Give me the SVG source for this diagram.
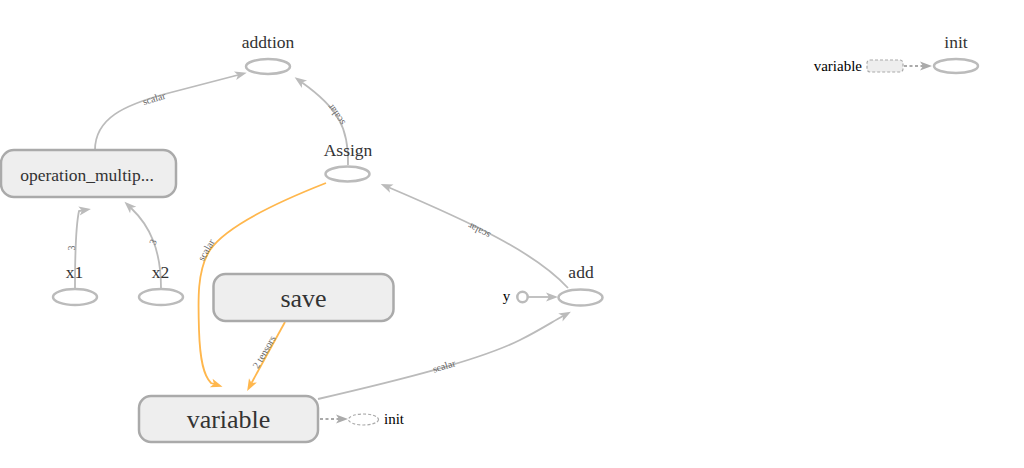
<svg xmlns="http://www.w3.org/2000/svg" width="1024" height="468" viewBox="0 0 1024 468">
<style>
text{font-family:"Liberation Serif","DejaVu Serif","Noto Serif","Times New Roman",serif}
.lbl{font-size:17.5px;fill:#333;text-anchor:middle}
.big{font-size:26px;fill:#333;text-anchor:middle}
.blk{font-size:15px;fill:#000}
.el{font-size:10px;fill:#666;text-anchor:middle;dominant-baseline:central}
.op{fill:#fff;stroke:#bbb;stroke-width:2.5}
.box{fill:#eee;stroke:#aaa;stroke-width:2.5}
.e{fill:none;stroke:#bbb;stroke-width:1.8}
.ref{fill:none;stroke:#ffb74d;stroke-width:1.8}
.ctl{fill:none;stroke:#aaa;stroke-width:1.8;stroke-dasharray:3,2.5}
</style>
<defs>
<marker id="ag" markerUnits="userSpaceOnUse" markerWidth="12" markerHeight="9" refX="3" refY="4.5" orient="auto" overflow="visible"><path d="M0,0 L12,4.5 L0,9 L3,4.5 z" fill="#bbb"/></marker>
<marker id="ao" markerUnits="userSpaceOnUse" markerWidth="12" markerHeight="9" refX="3" refY="4.5" orient="auto" overflow="visible"><path d="M0,0 L12,4.5 L0,9 L3,4.5 z" fill="#ffb74d"/></marker>
<marker id="ac" markerUnits="userSpaceOnUse" markerWidth="12" markerHeight="9" refX="3" refY="4.5" orient="auto" overflow="visible"><path d="M0,0 L12,4.5 L0,9 L3,4.5 z" fill="#aaa"/></marker>
</defs>
<g id="connectors">
<path class="e" d="M95,150 C95,118 125,105 165,94 L238,75" marker-end="url(#ag)"/>
<text class="el" transform="translate(154,98.5) rotate(-17)">scalar</text>
<path class="e" d="M348,165 C349,128 338,108 302,82.5" marker-end="url(#ag)"/>
<text class="el" transform="translate(336,115) rotate(-125)">scalar</text>
<path class="e" d="M568,288 C535,252 470,222 389,187.5" marker-end="url(#ag)"/>
<text class="el" transform="translate(479,231) rotate(-153)">scalar</text>
<path class="e" d="M75,288 C75,250 76,225 79,211 L82,210.5" marker-end="url(#ag)"/>
<text class="el" transform="translate(71,248) rotate(-90)">3</text>
<path class="e" d="M161,288 C161,250 150,226 131,208" marker-end="url(#ag)"/>
<text class="el" transform="translate(153,242) rotate(-65)">3</text>
<path class="ref" d="M326,183 C270,205 225,228 210,250 C197,270 198,300 199,330 C200,362 204,376 211,383 L214,384" marker-end="url(#ao)"/>
<text class="el" transform="translate(206,250) rotate(-60)">scalar</text>
<path class="ref" d="M285,322 L251.5,383" marker-end="url(#ao)"/>
<text class="el" transform="translate(264,352) rotate(-60)">2 tensors</text>
<path class="e" d="M318,399 C400,380 480,360 520,340 C540,330 552,322 563,316" marker-end="url(#ag)"/>
<text class="el" transform="translate(444,366) rotate(-17)">scalar</text>
<path class="e" d="M528,297 L549,297" marker-end="url(#ag)"/>
<path class="ctl" d="M320,419 L339,419" marker-end="url(#ac)"/>
<path class="ctl" d="M904,66 L923,66" marker-end="url(#ac)"/>
</g>
<g id="addtion"><ellipse class="op" cx="268" cy="66.5" rx="22" ry="7.5"/><text class="lbl" x="268" y="48">addtion</text></g>
<g id="Assign"><ellipse class="op" cx="347.5" cy="174" rx="22" ry="7.5"/><text class="lbl" x="348" y="156">Assign</text></g>
<g id="operation_multiply"><rect class="box" x="1" y="150" width="175" height="47" rx="13"/><text class="lbl" x="87" y="181">operation_multip...</text></g>
<g id="x1"><ellipse class="op" cx="75" cy="297" rx="22" ry="8"/><text class="lbl" x="74.5" y="278">x1</text></g>
<g id="x2"><ellipse class="op" cx="161" cy="297" rx="22" ry="8"/><text class="lbl" x="160.5" y="278">x2</text></g>
<g id="save"><rect class="box" x="213.5" y="274" width="180" height="47" rx="12"/><text class="big" x="303.5" y="307">save</text></g>
<g id="variable"><rect class="box" x="139" y="396" width="179" height="46" rx="12"/><text class="big" x="228.5" y="428">variable</text></g>
<g id="add"><ellipse class="op" cx="580.5" cy="297.5" rx="22" ry="8"/><text class="lbl" x="581" y="278">add</text></g>
<g id="y"><circle class="op" cx="522.5" cy="297" r="5.2"/><text class="blk" x="506.5" y="301" text-anchor="middle">y</text></g>
<g id="init_small"><ellipse cx="363.5" cy="419.5" rx="15" ry="5.5" fill="#fff" stroke="#aaa" stroke-width="1.2" stroke-dasharray="3,2"/><text class="blk" x="384" y="424">init</text></g>
<g id="variable_ref"><rect x="867" y="60" width="36" height="12" rx="3" fill="#eee" stroke="#aaa" stroke-width="1.2" stroke-dasharray="3,2"/><text class="blk" x="862" y="71" text-anchor="end">variable</text></g>
<g id="init"><ellipse class="op" cx="956" cy="66" rx="22" ry="7"/><text class="lbl" x="956" y="48">init</text></g>
</svg>
